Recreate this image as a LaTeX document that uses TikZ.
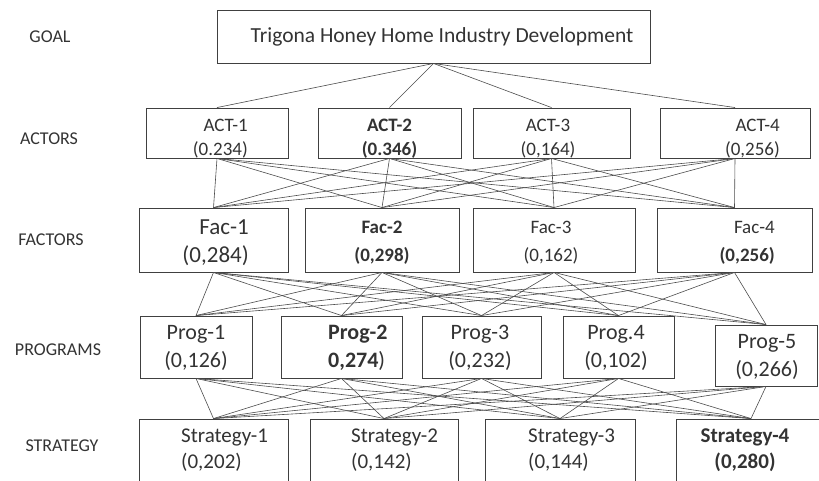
\documentclass[tikz,border=0pt]{standalone}
\usepackage{fontspec}
\setmainfont{Carlito}
\usepackage{tikz}

\begin{document}
\begin{tikzpicture}[x=1pt,y=-1pt,
  box/.style={draw=black!75, line width=0.9pt, fill=white, inner sep=0pt},
  txt/.style={text=black!80, inner sep=0pt},
  link/.style={draw=black!70, line width=0.6pt},
  lvl/.style={text=black!80, font=\fontsize{18}{20}\selectfont}]

\useasboundingbox (0,0) rectangle (819,480);

	% level names
	\node[lvl] (lgoal) at (50,37) {GOAL};
	\node[lvl] (lact) at (49,139) {ACTORS};
	\node[lvl] (lfac) at (51,240) {FACTORS};
	\node[lvl] (lprog) at (58,350) {PROGRAMS};
	\node[lvl] (lstr) at (62,446) {STRATEGY};

	% boxes
	\node[box, minimum width=433pt, minimum height=53pt] (goal) at (433.5,36.5) {};

	\node[box, minimum width=142pt, minimum height=50pt] (act1) at (217,133) {};
	\node[box, minimum width=143pt, minimum height=50pt] (act2) at (389.5,133) {};
	\node[box, minimum width=157pt, minimum height=50pt] (act3) at (551.5,133) {};
	\node[box, minimum width=150pt, minimum height=50pt] (act4) at (735,133) {};

	\node[box, minimum width=149pt, minimum height=64pt] (fac1) at (213.5,240) {};
	\node[box, minimum width=154pt, minimum height=64pt] (fac2) at (382,240) {};
	\node[box, minimum width=162pt, minimum height=64pt] (fac3) at (554,240) {};
	\node[box, minimum width=155pt, minimum height=64pt] (fac4) at (734.5,240) {};

	\node[box, minimum width=112pt, minimum height=62pt] (prog1) at (196,347) {};
	\node[box, minimum width=121pt, minimum height=62pt] (prog2) at (341.5,347) {};
	\node[box, minimum width=119pt, minimum height=62pt] (prog3) at (481.5,347) {};
	\node[box, minimum width=111pt, minimum height=62pt] (prog4) at (618.5,347) {};
	\node[box, minimum width=102pt, minimum height=61pt] (prog5) at (766,355.5) {};

	\node[box, minimum width=149pt, minimum height=62pt] (str1) at (213.5,450) {};
	\node[box, minimum width=148pt, minimum height=62pt] (str2) at (384,450) {};
	\node[box, minimum width=150pt, minimum height=62pt] (str3) at (560,450) {};
	\node[box, minimum width=150pt, minimum height=62pt] (str4) at (751,450) {};

	% texts in the boxes
	\node[txt, font=\fontsize{21.5}{24}\selectfont] (goalt) at (442,37)
		{Trigona Honey Home Industry Development};

	\node[txt, align=right, anchor=east, font=\fontsize{19}{24}\selectfont] (act1t) at (248,139) {ACT-1\\(0.234)};
	\node[txt, align=center, font=\fontsize{19}{24}\selectfont\bfseries] (act2t) at (389.5,139) {ACT-2\\(0.346)};
	\node[txt, align=center, font=\fontsize{19}{24}\selectfont] (act3t) at (548,139) {ACT-3\\(0,164)};
	\node[txt, align=right, anchor=east, font=\fontsize{19}{24}\selectfont] (act4t) at (780,139) {ACT-4\\(0,256)};

	\node[txt, align=right, anchor=east, font=\fontsize{23}{28}\selectfont] (fac1t) at (249,243) {Fac-1\\(0,284)};
	\node[txt, align=center, font=\fontsize{19}{28}\selectfont\bfseries] (fac2t) at (382,243) {Fac-2\\(0,298)};
	\node[txt, align=center, font=\fontsize{19}{28}\selectfont] (fac3t) at (551,243) {Fac-3\\(0,162)};
	\node[txt, align=right, anchor=east, font=\fontsize{19}{28}\selectfont] (fac4t) at (775,243) {Fac-4\\\textbf{(0,256)}};

	\node[txt, align=center, font=\fontsize{22}{28}\selectfont] (prog1t) at (196,348) {Prog-1\\(0,126)};
	\node[txt, align=left, anchor=west, font=\fontsize{22}{28}\selectfont] (prog2t) at (328,348) {\textbf{Prog-2}\\\textbf{0,274})};
	\node[txt, align=center, font=\fontsize{22}{28}\selectfont] (prog3t) at (480,348) {Prog-3\\(0,232)};
	\node[txt, align=center, font=\fontsize{22}{28}\selectfont] (prog4t) at (616,348) {Prog.4\\(0,102)};
	\node[txt, align=center, font=\fontsize{22}{28}\selectfont] (prog5t) at (767,357) {Prog-5\\(0,266)};

	\node[txt, align=left, anchor=west, font=\fontsize{21}{26}\selectfont] (str1t) at (181,450) {Strategy-1\\(0,202)};
	\node[txt, align=left, anchor=west, font=\fontsize{21}{26}\selectfont] (str2t) at (351,450) {Strategy-2\\(0,142)};
	\node[txt, align=left, anchor=west, font=\fontsize{21}{26}\selectfont] (str3t) at (528,450) {Strategy-3\\(0,144)};
	\node[txt, align=center, font=\fontsize{21}{26}\selectfont\bfseries] (str4t) at (745,450) {Strategy-4\\(0,280)};

	% goal to actors
	\foreach \a in {1,...,4}
		\draw[link] (goal.south) -- (act\a.north);

	% actors to factors
	\foreach \a in {1,...,4}
		\foreach \f in {1,...,4}
			\draw[link] (act\a.south) -- (fac\f.north);

	% factors to programs
	\foreach \f in {1,...,4}
		\foreach \p in {1,...,5}
			\draw[link] (fac\f.south) -- (prog\p.north);

	% programs to strategies
	\foreach \p in {1,...,5}
		\foreach \s in {1,...,4}
			\draw[link] (prog\p.south) -- (str\s.north);

\end{tikzpicture}
\end{document}
